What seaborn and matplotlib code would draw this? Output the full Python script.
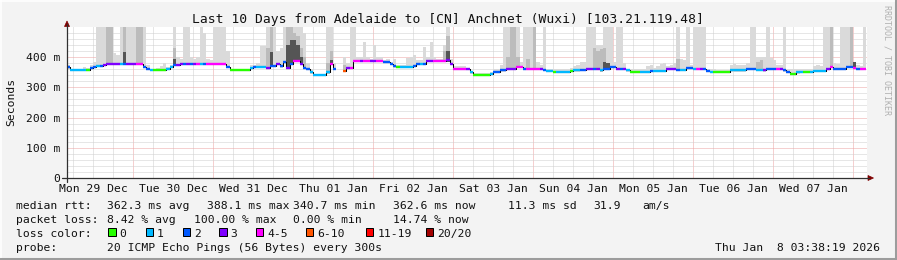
import numpy as np
import pandas as pd
import matplotlib
matplotlib.use("Agg")
import matplotlib.pyplot as plt
import seaborn as sns
from matplotlib.lines import Line2D
from matplotlib.patches import Rectangle, Polygon
from matplotlib.ticker import MultipleLocator

# ---------------- data ----------------
title = "Last 10 Days from Adelaide to [CN] Anchnet (Wuxi) [103.21.119.48]"
day_labels = ["Mon 29 Dec", "Tue 30 Dec", "Wed 31 Dec", "Thu 01 Jan", "Fri 02 Jan",
              "Sat 03 Jan", "Sun 04 Jan", "Mon 05 Jan", "Tue 06 Jan", "Wed 07 Jan"]
y_tick_values = [0, 100, 200, 300, 400]
y_tick_labels = ["0", "100 m", "200 m", "300 m", "400 m"]

start_hour = 4          # first hourly sample, hours after Mon 29 Dec 00:00
window_start = 4.2      # left edge of the graph (hours after Mon 29 Dec 00:00)
window_hours = 240      # 10 days
nan = float("nan")

# hourly median rtt (ms)
median_ms = [
    366, 358, 358, 358, 358, 358, 358, 364, 368, 371, 371, 375, 376, 376, 376, 376, 376, 376, 378, 378,
    377, 378, 378, 368, 362, 358, 358, 358, 358, 358, 362, 367, 374, 374, 376, 376, 377, 377, 378, 378, 376, 376, 378, 378,
    378, 378, 378, 378, 368, 358, 358, 358, 358, 358, 358, 364, 367, 367, 367, 367, 364, 371, 371, 376, 369, 382, 364, 376,
    388, 388, 376, 365, 360, 349, 341, 341, 341, 341, 349, 378, 360, nan, nan, 355, 364, 364, 388, 388, 388, 388, 388, 388,
    388, 388, 388, 384, 384, 376, 369, 367, 367, 367, 367, 367, 371, 378, 378, 378, 387, 387, 387, 387, 387, 387, 389, 376,
    362, 362, 362, 362, 360, 349, 341, 341, 341, 341, 341, 345, 351, 351, 356, 356, 362, 362, 362, 367, 367, 362, 362, 362,
    362, 362, 362, 358, 354, 354, 352, 352, 352, 352, 352, 354, 356, 356, 358, 358, 362, 362, 362, 362, 356, 362, 362, 367,
    367, 362, 362, 362, 356, 352, 352, 352, 352, 352, 352, 354, 354, 354, 354, 354, 362, 362, 362, 358, 358, 358, 364, 364,
    362, 362, 362, 362, 354, 352, 352, 352, 352, 352, 352, 356, 356, 356, 356, 356, 362, 362, 362, 358, 358, 356, 362, 362,
    362, 362, 362, 356, 350, 343, 343, 349, 352, 352, 352, 352, 354, 354, 354, 354, 362, 367, 362, 362, 362, 362, 367, 367,
    364, 362, 362, 362,
]

# hourly loss class (index into loss_colors, -1 = no data)
loss_class = [
    2, 1, 1, 1, 1, 1, 0, 2, 2, 1, 2, 3, 3, 3, 3, 3, 1, 2, 3, 3,
    3, 4, 4, 2, 2, 1, 0, 0, 0, 0, 1, 1, 2, 3, 3, 2, 3, 2, 3, 4, 1, 2, 4, 4,
    4, 4, 4, 4, 2, 0, 0, 0, 0, 0, 0, 1, 2, 1, 1, 1, 3, 2, 2, 3, 2, 2, 3, 2,
    4, 4, 3, 2, 2, 1, 1, 1, 1, 1, 1, 4, 2, -1, -1, 5, 3, 4, 4, 4, 3, 4, 4, 3,
    3, 4, 4, 2, 2, 2, 2, 0, 1, 1, 1, 1, 2, 2, 1, 2, 3, 3, 4, 4, 4, 4, 3, 3,
    4, 4, 4, 4, 3, 1, 0, 0, 0, 0, 0, 1, 2, 2, 2, 2, 3, 3, 3, 4, 4, 2, 4, 4,
    4, 4, 3, 2, 1, 1, 0, 1, 1, 1, 1, 0, 1, 1, 2, 2, 3, 3, 2, 3, 1, 2, 2, 2,
    2, 3, 2, 3, 1, 0, 0, 0, 1, 1, 1, 2, 1, 1, 1, 1, 3, 3, 3, 2, 1, 1, 2, 2,
    1, 4, 3, 2, 2, 1, 0, 0, 0, 0, 0, 1, 1, 1, 1, 1, 2, 2, 2, 1, 1, 3, 2, 2,
    2, 4, 3, 2, 2, 0, 0, 1, 1, 0, 0, 1, 1, 1, 1, 1, 3, 4, 2, 2, 2, 2, 2, 2,
    4, 2, 4, 4,
]

# hourly top of the light smoke (ms, values above the axis top are clipped)
smoke_top = [
    372, 362, 362, 362, 362, 368, 365, 374, 385, 500, 500, 500, 500, 500, 412, 405, 500, 500, 500, 500,
    500, 500, 500, 500, 372, 362, 362, 365, 370, 380, 368, 372, 500, 400, 395, 500, 500, 400, 395, 400, 500, 480, 395, 390,
    500, 500, 500, 500, 420, 362, 362, 362, 362, 362, 362, 372, 372, 380, 437, 437, 500, 500, 500, 420, 430, 500, 500, 500,
    500, 500, 500, 480, 380, 360, 345, 345, 345, 345, 500, 500, 380, nan, nan, 400, 380, 500, 500, 400, 400, 450, 400, 395,
    440, 400, 400, 390, 395, 385, 395, 372, 372, 372, 398, 400, 405, 390, 390, 432, 400, 448, 400, 395, 395, 440, 500, 395,
    370, 370, 370, 370, 365, 348, 348, 348, 348, 348, 348, 350, 360, 362, 375, 500, 500, 500, 500, 500, 385, 500, 500, 500,
    500, 385, 375, 500, 360, 360, 360, 360, 360, 360, 360, 365, 370, 375, 385, 385, 500, 500, 500, 440, 440, 500, 500, 500,
    385, 500, 500, 380, 360, 360, 360, 362, 360, 360, 370, 372, 365, 370, 378, 380, 370, 372, 380, 500, 395, 390, 500, 375,
    500, 500, 500, 500, 360, 360, 360, 358, 358, 358, 358, 375, 378, 375, 372, 372, 380, 500, 500, 400, 400, 400, 500, 398,
    390, 375, 372, 500, 360, 360, 360, 360, 360, 360, 360, 360, 370, 372, 370, 500, 500, 500, 380, 378, 500, 500, 500, 500,
    382, 372, 370, 500,
]

# medium-grey smoke (hour, top ms)
smoke_mid_hours = [16, 17, 21, 25, 26, 36, 64, 65, 70, 71, 72, 73, 74, 75, 82, 83, 87, 117, 118,
                   136, 137, 138, 139, 142, 144, 162, 163, 164, 165, 187, 211, 212, 233, 239]
smoke_mid_top = [500, 500, 500, 500, 500, 430, 430, 500, 500, 500, 480, 470, 430, 400, 380, 420, 375, 420, 470,
                 400, 500, 500, 400, 395, 500, 430, 420, 425, 430, 395, 385, 390, 500, 500]
# dark smoke (hour, top ms)
smoke_dark_hours = [21, 36, 65, 70, 71, 72, 73, 74, 83, 118, 165, 166, 240]
smoke_dark_top = [415, 395, 418, 440, 457, 457, 440, 400, 390, 420, 385, 380, 382]
smoke_below = 4  # smoke reaches this many ms below the median

loss_labels = ["0", "1", "2", "3", "4-5", "6-10", "11-19", "20/20"]
loss_colors = ["#26ff00", "#00b8ff", "#0059ff", "#7e00ff", "#ff00ff", "#ff5500", "#ff0000", "#a10000"]

rtt_items = ["median rtt:", "362.3 ms avg", "388.1 ms max", "340.7 ms min", "362.6 ms now",
             "11.3 ms sd", "31.9", "am/s"]
loss_items = ["packet loss:", "8.42 % avg", "100.00 % max", "0.00 % min", "14.74 % now"]
probe_items = ["probe:", "20 ICMP Echo Pings (56 Bytes) every 300s"]
stamp = "Thu Jan  8 03:38:19 2026"
watermark = "RRDTOOL / TOBI OETIKER"

# ---------------- layout / style ----------------
W, H, DPI = 897, 260, 100
BG = "#f3f3f3"
MONO = "DejaVu Sans Mono"
FS = 8.2
LIGHT, MID, DARK = "#dadada", "#bcbcbc", "#555555"

sns.set_theme(style="white")
plt.rcParams["font.family"] = [MONO, "DejaVu Sans"]


def fx(x):
    return x / W


def fy(y):
    return 1 - y / H


fig = plt.figure(figsize=(W / DPI, H / DPI), dpi=DPI, facecolor=BG)
ax = fig.add_axes([fx(67), fy(178), 800 / W, 151 / H])
ax.set_facecolor("white")
ax.set_xlim(window_start, window_start + window_hours)
ax.set_ylim(0, 499.2)

hours = start_hour + np.arange(len(median_ms))
med = np.array(median_ms, dtype=float)
lo = med - smoke_below
top = np.array(smoke_top, dtype=float)
valid = ~np.isnan(med)

# smoke layers
ax.bar(hours[valid], (top - lo)[valid], bottom=lo[valid], width=1, align="edge",
       color=LIGHT, linewidth=0, antialiased=False, zorder=2)
mh = np.array(smoke_mid_hours)
mi = mh - start_hour
ax.bar(mh, np.array(smoke_mid_top) - lo[mi], bottom=lo[mi], width=1, align="edge",
       color=MID, linewidth=0, antialiased=False, zorder=2.1)
dh = np.array(smoke_dark_hours)
di = dh - start_hour
ax.bar(dh, np.array(smoke_dark_top) - lo[di], bottom=lo[di], width=1, align="edge",
       color=DARK, linewidth=0, antialiased=False, zorder=2.2)

# black step line for the median (segments split at gaps)
df = pd.DataFrame({"hour": hours, "rtt": med, "seg": np.cumsum(np.isnan(med))}).dropna()
sns.lineplot(data=df, x="hour", y="rtt", units="seg", estimator=None, drawstyle="steps-post",
             color="black", lw=0.75, ax=ax, legend=False, zorder=3)
ax.set_xlabel("")
ax.set_ylabel("")

# colored median segments by loss
cols = [loss_colors[c] for c, v in zip(loss_class, valid) if v]
ax.hlines(med[valid], hours[valid], hours[valid] + 1, colors=cols, lw=1.7, zorder=4)

# grid
ax.xaxis.set_major_locator(MultipleLocator(24))
ax.xaxis.set_minor_locator(MultipleLocator(6))
ax.set_yticks(y_tick_values, labels=y_tick_labels)
ax.yaxis.set_minor_locator(MultipleLocator(20))
ax.grid(which="minor", color="#cfcfcf", ls=(0, (1, 1)), lw=0.72)
ax.grid(which="major", color="#eda3a3", ls=(0, (1, 1)), lw=0.72)
ax.set_axisbelow(True)
ax.tick_params(axis="x", which="major", length=1.6, width=0.72, color="#333333",
               direction="out", labelbottom=False)
ax.tick_params(which="minor", length=0)
ax.tick_params(axis="y", which="major", length=0, pad=5.0, labelsize=FS, labelcolor="#111111")
for lab in ax.get_yticklabels():
    lab.set_fontfamily(MONO)
    lab.set_va("center_baseline")
for s in ax.spines.values():
    s.set_visible(False)

# day labels at noon
for k, lab in enumerate(day_labels):
    ax.text(12 + 24 * k, -(192 - 178) / 151, lab, transform=ax.get_xaxis_transform(),
            ha="center", va="baseline", fontsize=FS, family=MONO, color="#111111")

# axes lines and arrows
AX_COL = "#303030"
ARR = "#7f0000"
fig.add_artist(Line2D([fx(67), fx(67)], [fy(24), fy(182)], color=AX_COL, lw=0.9))
fig.add_artist(Line2D([fx(62), fx(869)], [fy(178), fy(178)], color=AX_COL, lw=0.9))
fig.add_artist(Polygon([[fx(64.5), fy(26.5)], [fx(69.5), fy(26.5)], [fx(67), fy(21)]],
                       closed=True, facecolor=ARR, edgecolor=ARR, lw=0.5))
fig.add_artist(Polygon([[fx(868), fy(175.5)], [fx(868), fy(180.5)], [fx(873.5), fy(178)]],
                       closed=True, facecolor=ARR, edgecolor=ARR, lw=0.5))

# title, y label, watermark
fig.text(fx(448), fy(23.5), title, ha="center", va="baseline", fontsize=9.4, family=MONO, color="#111111")
fig.text(fx(11), fy(102), "Seconds", rotation=90, ha="center", va="center", fontsize=FS,
         family=MONO, color="#111111")
fig.text(fx(887), fy(60), watermark, rotation=270, ha="center", va="center", fontsize=6.0,
         family=MONO, color="#b0b0b0")


def ftext(x, y, s, ha="left"):
    fig.text(fx(x), fy(y), s, ha=ha, va="baseline", fontsize=FS, family=MONO, color="#111111")


for s, x in zip(rtt_items, [16, 107, 207, 293, 393, 508, 593, 642]):
    ftext(x, 209, s)
for s, x in zip(loss_items, [16, 107, 194, 293, 393]):
    ftext(x, 223, s)
ftext(16, 237, "loss color:")
for lab, col, x in zip(loss_labels, loss_colors, [108.3, 145.7, 182.7, 219.3, 256, 306, 366, 426]):
    fig.add_artist(Rectangle((fx(x), fy(236)), 7.4 / W, 7.6 / H, facecolor=col,
                             edgecolor="black", lw=0.72))
    ftext(x + 11.3, 237, lab)
for s, x in zip(probe_items, [16, 107]):
    ftext(x, 251, s)
ftext(880, 251, stamp, ha="right")

# 3D frame
fig.add_artist(Line2D([0, 1], [fy(0.5), fy(0.5)], color="white", lw=1.2))
fig.add_artist(Line2D([fx(0.5), fx(0.5)], [0, 1], color="white", lw=1.2))
fig.add_artist(Line2D([0, 1], [fy(258.5), fy(258.5)], color="#9c9c9c", lw=2.2))
fig.add_artist(Line2D([fx(895.5), fx(895.5)], [0, 1], color="#9c9c9c", lw=2.2))

fig.savefig("out.png", dpi=DPI, facecolor=BG)
